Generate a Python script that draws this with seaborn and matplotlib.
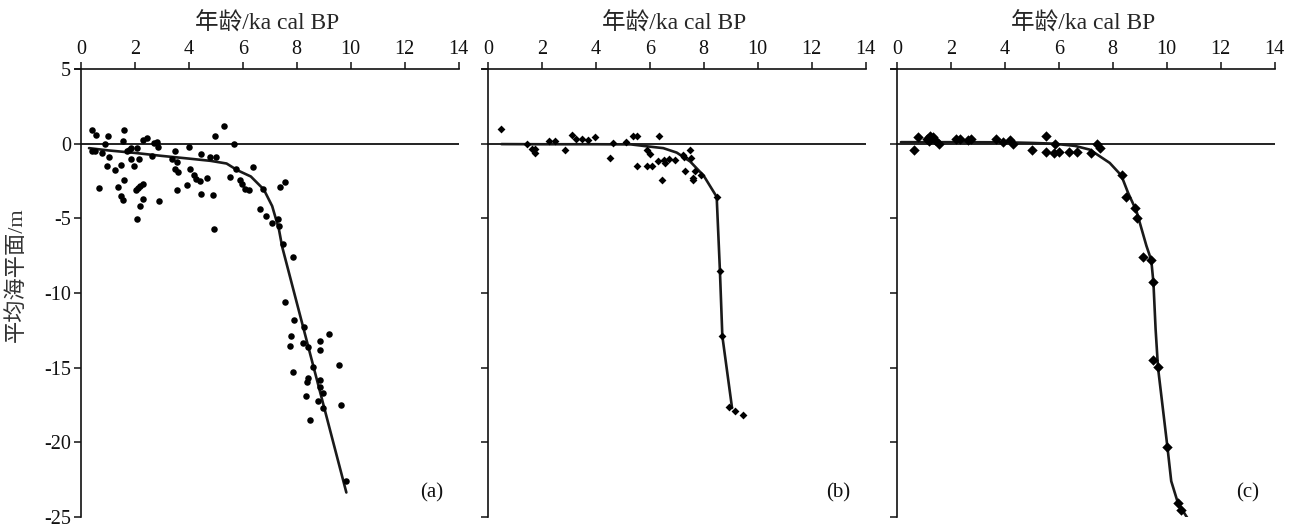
import numpy as np
import pandas as pd
import matplotlib
matplotlib.use('Agg')
import matplotlib.pyplot as plt
import seaborn as sns

# (a) 实测点
age_a = [0.40, 0.55, 0.42, 0.52, 0.78, 0.99, 0.89, 1.05, 0.97, 0.68, 1.28, 1.49, 1.61, 1.57,
         1.60, 1.39, 1.49, 1.57, 1.70, 1.80, 1.86, 1.86, 1.97, 2.09, 2.16, 2.04, 2.12, 2.20,
         2.29, 2.30, 2.19, 2.07, 2.32, 2.46, 2.63, 2.71, 2.81, 2.85, 2.89, 3.47, 3.39, 3.56,
         3.49, 3.59, 3.56, 4.00, 4.05, 3.95, 4.20, 4.28, 4.47, 4.42, 4.47, 4.68, 4.78, 5.02,
         4.91, 4.98, 5.32, 5.66, 4.93, 5.76, 5.51, 5.91, 5.97, 6.07, 6.22, 6.39, 6.75, 7.37,
         7.56, 6.63, 6.87, 7.10, 7.29, 7.35, 7.50, 7.86, 7.58, 7.89, 8.26, 7.77, 7.74, 8.24,
         8.41, 8.86, 9.19, 8.86, 8.61, 9.57, 7.86, 8.41, 8.39, 8.88, 8.86, 8.96, 8.34, 8.78,
         8.98, 9.63, 8.48, 9.84]
msl_a = [0.89, 0.60, -0.51, -0.51, -0.62, 0.49, -0.05, -0.89, -1.51, -2.98, -1.78, -1.42, 0.89, 0.16,
         -2.42, -2.89, -3.51, -3.78, -0.50, -0.40, -0.30, -1.02, -1.51, -0.29, -1.00, -3.10, -2.95, -2.85,
         -2.70, -3.73, -4.18, -5.02, 0.22, 0.38, -0.80, 0.05, 0.11, -0.22, -3.82, -0.47, -1.02, -1.22,
         -1.69, -1.87, -3.11, -0.22, -1.69, -2.78, -2.13, -2.40, -0.69, -2.47, -3.36, -2.29, -0.89, -0.89,
         -3.44, 0.49, 1.16, 0.00, -5.69, -1.73, -2.24, -2.44, -2.67, -3.02, -3.09, -1.58, -3.02, -2.93,
         -2.60, -4.36, -4.84, -5.29, -5.02, -5.53, -6.73, -7.56, -10.62, -11.78, -12.29, -12.89, -13.55, -13.36,
         -13.64, -13.24, -12.73, -13.80, -14.96, -14.84, -15.29, -15.69, -15.96, -15.80, -16.29, -16.69, -16.89, -17.24,
         -17.69, -17.51, -18.51, -22.62]

# (a) 拟合曲线
curve_age_a = [0.3, 1.0, 2.0, 3.0, 4.0, 4.8, 5.4, 5.8, 6.3, 6.78, 7.09, 7.34, 7.46, 9.84]
curve_msl_a = [-0.3, -0.45, -0.62, -0.82, -1.0, -1.15, -1.33, -1.78, -2.2, -3.07, -4.18, -5.73, -6.9, -23.36]

# (b) 实测点
age_b = [0.50, 1.46, 1.62, 1.74, 1.74, 2.27, 2.48, 2.87, 3.10, 3.26, 3.49, 3.72, 3.96, 4.52,
         4.64, 5.11, 5.38, 5.51, 5.54, 5.88, 6.09, 5.88, 6.00, 6.29, 6.53, 6.56, 6.72, 6.33,
         6.44, 6.93, 7.22, 7.27, 7.49, 7.51, 7.31, 7.62, 7.62, 7.69, 7.91, 8.48, 8.60, 8.69,
         8.94, 9.15, 9.46]
msl_b = [1.00, 0.00, -0.33, -0.33, -0.62, 0.16, 0.16, -0.40, 0.60, 0.33, 0.31, 0.27, 0.42, -0.96,
         0.04, 0.11, 0.49, 0.49, -1.47, -1.47, -1.47, -0.40, -0.67, -1.13, -1.07, -1.29, -1.02, 0.49,
         -2.44, -1.11, -0.73, -0.89, -0.44, -0.96, -1.84, -2.29, -2.44, -1.84, -2.13, -3.56, -8.51, -12.89,
         -17.62, -17.89, -18.18]

curve_age_b = [0.5, 2.0, 4.0, 5.3, 5.9, 6.5, 7.0, 7.5, 8.0, 8.48, 8.6, 8.69, 9.05]
curve_msl_b = [-0.03, -0.04, -0.04, -0.05, -0.18, -0.3, -0.6, -1.2, -2.15, -3.56, -8.51, -12.89, -17.7]

# (c) 实测点
age_c = [0.63, 0.78, 1.10, 1.22, 1.35, 1.19, 1.40, 1.56, 2.18, 2.33, 2.64, 2.73, 3.66, 3.94,
         4.19, 4.31, 5.00, 5.54, 5.54, 5.81, 6.00, 5.87, 6.37, 6.66, 7.19, 7.42, 7.52, 8.35,
         8.50, 8.84, 8.90, 9.14, 9.43, 9.49, 9.49, 9.68, 10.03, 10.42, 10.52]
msl_c = [-0.40, 0.42, 0.33, 0.49, 0.42, 0.16, 0.22, 0.00, 0.33, 0.33, 0.22, 0.31, 0.33, 0.13,
         0.22, 0.00, -0.40, 0.53, -0.55, -0.62, -0.55, 0.00, -0.55, -0.55, -0.62, 0.00, -0.29, -2.13,
         -3.56, -4.29, -4.96, -7.57, -7.80, -9.29, -14.47, -14.96, -20.33, -24.07, -24.56]

curve_age_c = [0.15, 2.0, 4.0, 5.0, 5.8, 6.6, 7.15, 7.89, 8.32, 8.57, 8.88, 9.25, 9.43, 9.51,
               9.59, 9.68, 10.03, 10.17, 10.42, 10.85]
curve_msl_c = [0.1, 0.1, 0.09, 0.05, 0.0, -0.15, -0.4, -1.29, -2.13, -3.29, -4.51, -6.84, -7.8, -9.3,
               -12.4, -15.0, -20.33, -22.6, -24.07, -25.3]

xticks = [0, 2, 4, 6, 8, 10, 12, 14]
yticks = [5, 0, -5, -10, -15, -20, -25]
panel_tags = ['(a)', '(b)', '(c)']
xlabel = '年龄/ka cal BP'
ylabel = '平均海平面/m'

sns.set_theme(style='white')
plt.rcParams['font.family'] = ['Liberation Serif', 'Noto Sans CJK SC']
plt.rcParams['axes.unicode_minus'] = False

fig = plt.figure(figsize=(12.95, 5.27), dpi=100)
lefts = [0.0579, 0.3722, 0.6880]
axes = [fig.add_axes([l, 0.0190, 0.2962, 0.8501]) for l in lefts]

panels = [
    (age_a, msl_a, curve_age_a, curve_msl_a, 'o', 22),
    (age_b, msl_b, curve_age_b, curve_msl_b, 'D', 16),
    (age_c, msl_c, curve_age_c, curve_msl_c, 'D', 28),
]

for i, (ax, (ax_age, ax_msl, c_age, c_msl, mk, ms)) in enumerate(zip(axes, panels)):
    ax.axhline(0, xmin=0.22 / 14.22, color='#111111', lw=1.3, zorder=1)
    sns.lineplot(x=c_age, y=c_msl, ax=ax, color='#1a1a1a', lw=1.9, sort=False,
                 estimator=None, zorder=2)
    sns.scatterplot(x=ax_age, y=ax_msl, ax=ax, color='black', marker=mk, s=ms,
                    linewidth=0, zorder=3)

    ax.set_xlim(-0.22, 14)
    ax.set_ylim(-25, 5)
    ax.set_xticks(xticks)
    ax.set_yticks(yticks)
    ax.xaxis.tick_top()
    ax.xaxis.set_label_position('top')
    ax.set_xlabel(xlabel, fontsize=17, labelpad=8)

    for s in ['right', 'bottom']:
        ax.spines[s].set_visible(False)
    ax.spines['left'].set_position(('data', 0))
    for s in ['top', 'left']:
        ax.spines[s].set_color('#111111')
        ax.spines[s].set_linewidth(1.2)
    ax.tick_params(axis='both', direction='out', length=5, width=1.1, color='#111111',
                   labelsize=14.5, labelcolor='#111111', pad=2)
    ax.tick_params(axis='x', top=True, bottom=False)
    ax.tick_params(axis='y', left=True)

    if i == 0:
        ax.set_ylabel(ylabel, fontsize=16, color='#333333')
        ax.yaxis.set_label_coords(-0.125, 0.54)
    else:
        ax.set_yticklabels([])
        ax.set_ylabel('')

    ax.text(13.0, -23.4, panel_tags[i], fontsize=15, ha='center', va='center', color='#111111')

fig.savefig('out.png', dpi=100)
